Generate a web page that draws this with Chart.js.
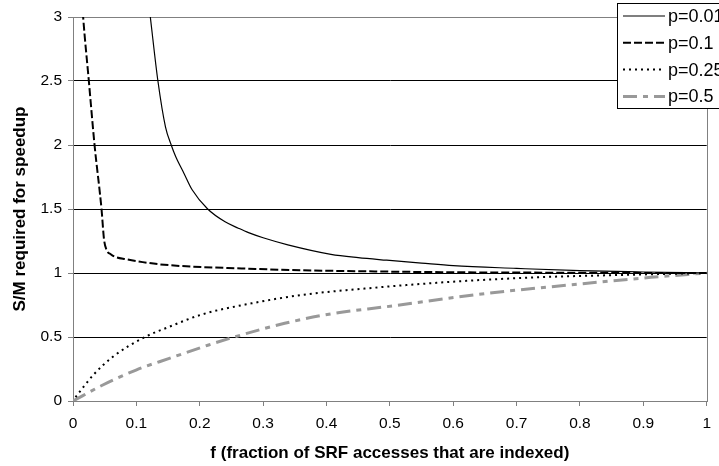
<!DOCTYPE html>
<html>
<head>
<meta charset="utf-8">
<script src="https://cdn.jsdelivr.net/npm/chart.js@4.4.1/dist/chart.umd.min.js"></script>
<style>
  html, body { margin: 0; padding: 0; background: #fff; }
</style>
</head>
<body>
<canvas id="chart" width="719" height="466"></canvas>
<script>
// ---- data ----
const seriesLabels = ['p=0.01', 'p=0.1', 'p=0.25', 'p=0.5'];

const p001X = [0.116, 0.122, 0.134, 0.146, 0.155, 0.162, 0.175, 0.188, 0.2125, 0.24, 0.261, 0.277, 0.30, 0.339, 0.407, 0.45, 0.495, 0.55, 0.6, 0.7, 0.8, 0.9, 1.0];
const p001Y = [3.25, 3.0, 2.5, 2.14, 2.0, 1.91, 1.78, 1.65, 1.5, 1.40, 1.35, 1.315, 1.275, 1.22, 1.146, 1.12, 1.10, 1.077, 1.057, 1.036, 1.018, 1.008, 1.0];

const p01X = [0.012, 0.016, 0.025, 0.034, 0.045, 0.049, 0.053, 0.06, 0.066, 0.084, 0.11, 0.136, 0.188, 0.266, 0.344, 0.45, 0.6, 0.8, 1.0];
const p01Y = [3.3, 3.0, 2.5, 2.0, 1.5, 1.26, 1.18, 1.145, 1.127, 1.107, 1.085, 1.068, 1.05, 1.036, 1.023, 1.014, 1.006, 1.002, 1.0];

const p025X = [0.004, 0.032, 0.063, 0.1125, 0.152, 0.204, 0.282, 0.36, 0.464, 0.6, 0.73, 0.86, 1.0];
const p025Y = [0.03, 0.203, 0.346, 0.497, 0.58, 0.677, 0.763, 0.828, 0.88, 0.932, 0.966, 0.984, 1.0];

const p05X = [0, 0.047, 0.0995, 0.152, 0.214, 0.256, 0.334, 0.412, 0.495, 0.652, 0.782, 0.912, 1.0];
const p05Y = [0, 0.125, 0.242, 0.333, 0.4375, 0.502, 0.607, 0.685, 0.737, 0.84, 0.906, 0.966, 1.0];

const xTickValues = [0, 0.1, 0.2, 0.3, 0.4, 0.5, 0.6, 0.7, 0.8, 0.9, 1];
const yTickValues = [0, 0.5, 1, 1.5, 2, 2.5, 3];

const FONT = "'Liberation Sans', Arial, sans-serif";

function points(xs, ys) {
  return xs.map(function(x, i) { return { x: x, y: ys[i] }; });
}

// Excel style legend box, sitting over the top-right corner
const boxLegend = {
  id: 'boxLegend',
  afterDraw: function(chart) {
    const ctx = chart.ctx;
    ctx.save();
    ctx.fillStyle = '#fff';
    ctx.fillRect(617, 3, 110, 105);
    ctx.strokeStyle = '#000';
    ctx.lineWidth = 1;
    ctx.strokeRect(617.5, 3.5, 110, 105);
    chart.data.datasets.forEach(function(ds, i) {
      const y = 16 + i * 26.8;
      ctx.beginPath();
      ctx.strokeStyle = ds.borderColor;
      ctx.lineWidth = ds.borderWidth;
      ctx.setLineDash(ds.borderDash || []);
      ctx.moveTo(623, y);
      ctx.lineTo(665, y);
      ctx.stroke();
      ctx.setLineDash([]);
      ctx.fillStyle = '#000';
      ctx.font = '18px ' + FONT;
      ctx.textBaseline = 'middle';
      ctx.textAlign = 'left';
      ctx.fillText(ds.label, 668, y + 1);
    });
    ctx.restore();
  }
};

// grey frame round the plot area
const plotFrame = {
  id: 'plotFrame',
  beforeDatasetsDraw: function(chart) {
    const a = chart.chartArea;
    const ctx = chart.ctx;
    ctx.save();
    ctx.strokeStyle = '#808080';
    ctx.lineWidth = 1;
    ctx.strokeRect(Math.round(a.left) + 0.5, Math.round(a.top) + 0.5,
      Math.round(a.right - a.left), Math.round(a.bottom - a.top));
    ctx.restore();
  }
};

new Chart(document.getElementById('chart'), {
  type: 'line',
  data: {
    datasets: [
      {
        label: seriesLabels[0],
        data: points(p001X, p001Y),
        borderColor: '#000',
        borderWidth: 1.2,
        clip: 0
      },
      {
        label: seriesLabels[1],
        data: points(p01X, p01Y),
        borderColor: '#000',
        borderWidth: 2,
        borderDash: [8, 3],
        clip: 0
      },
      {
        label: seriesLabels[2],
        data: points(p025X, p025Y),
        borderColor: '#000',
        borderWidth: 2,
        borderDash: [2, 4]
      },
      {
        label: seriesLabels[3],
        data: points(p05X, p05Y),
        borderColor: '#999999',
        borderWidth: 3,
        borderDash: [14, 6, 5, 6]
      }
    ]
  },
  options: {
    responsive: false,
    animation: false,
    layout: { padding: { top: 17, right: 6, left: 0, bottom: 0 } },
    elements: {
      point: { radius: 0 },
      line: { cubicInterpolationMode: 'monotone', fill: false }
    },
    plugins: {
      legend: { display: false },
      tooltip: { enabled: false }
    },
    scales: {
      x: {
        type: 'linear',
        min: 0,
        max: 1,
        afterFit: function(scale) { scale.height = 65; },
        afterBuildTicks: function(scale) {
          scale.ticks = xTickValues.map(function(v) { return { value: v }; });
        },
        grid: { drawOnChartArea: false, tickLength: 5, tickColor: '#808080', color: '#808080' },
        border: { color: '#808080' },
        ticks: {
          color: '#000',
          padding: 8,
          maxRotation: 0,
          font: { family: FONT, size: 15.5 },
          callback: function(v) { return String(Math.round(v * 10) / 10); }
        },
        title: {
          display: true,
          text: 'f (fraction of SRF accesses that are indexed)',
          color: '#000',
          padding: { top: 0, bottom: 2 },
          font: { family: FONT, size: 17, weight: 'bold' }
        }
      },
      y: {
        min: 0,
        max: 3,
        afterFit: function(scale) { scale.width = 73; },
        afterBuildTicks: function(scale) {
          scale.ticks = yTickValues.map(function(v) { return { value: v }; });
        },
        grid: { color: '#000', tickLength: 5, tickColor: '#808080' },
        border: { color: '#808080' },
        ticks: {
          color: '#000',
          padding: 6,
          font: { family: FONT, size: 15.5 },
          callback: function(v) { return String(v); }
        },
        title: {
          display: true,
          text: 'S/M required for speedup',
          color: '#000',
          padding: { top: 10, bottom: 0 },
          font: { family: FONT, size: 17, weight: 'bold' }
        }
      }
    }
  },
  plugins: [plotFrame, boxLegend]
});
</script>
</body>
</html>
